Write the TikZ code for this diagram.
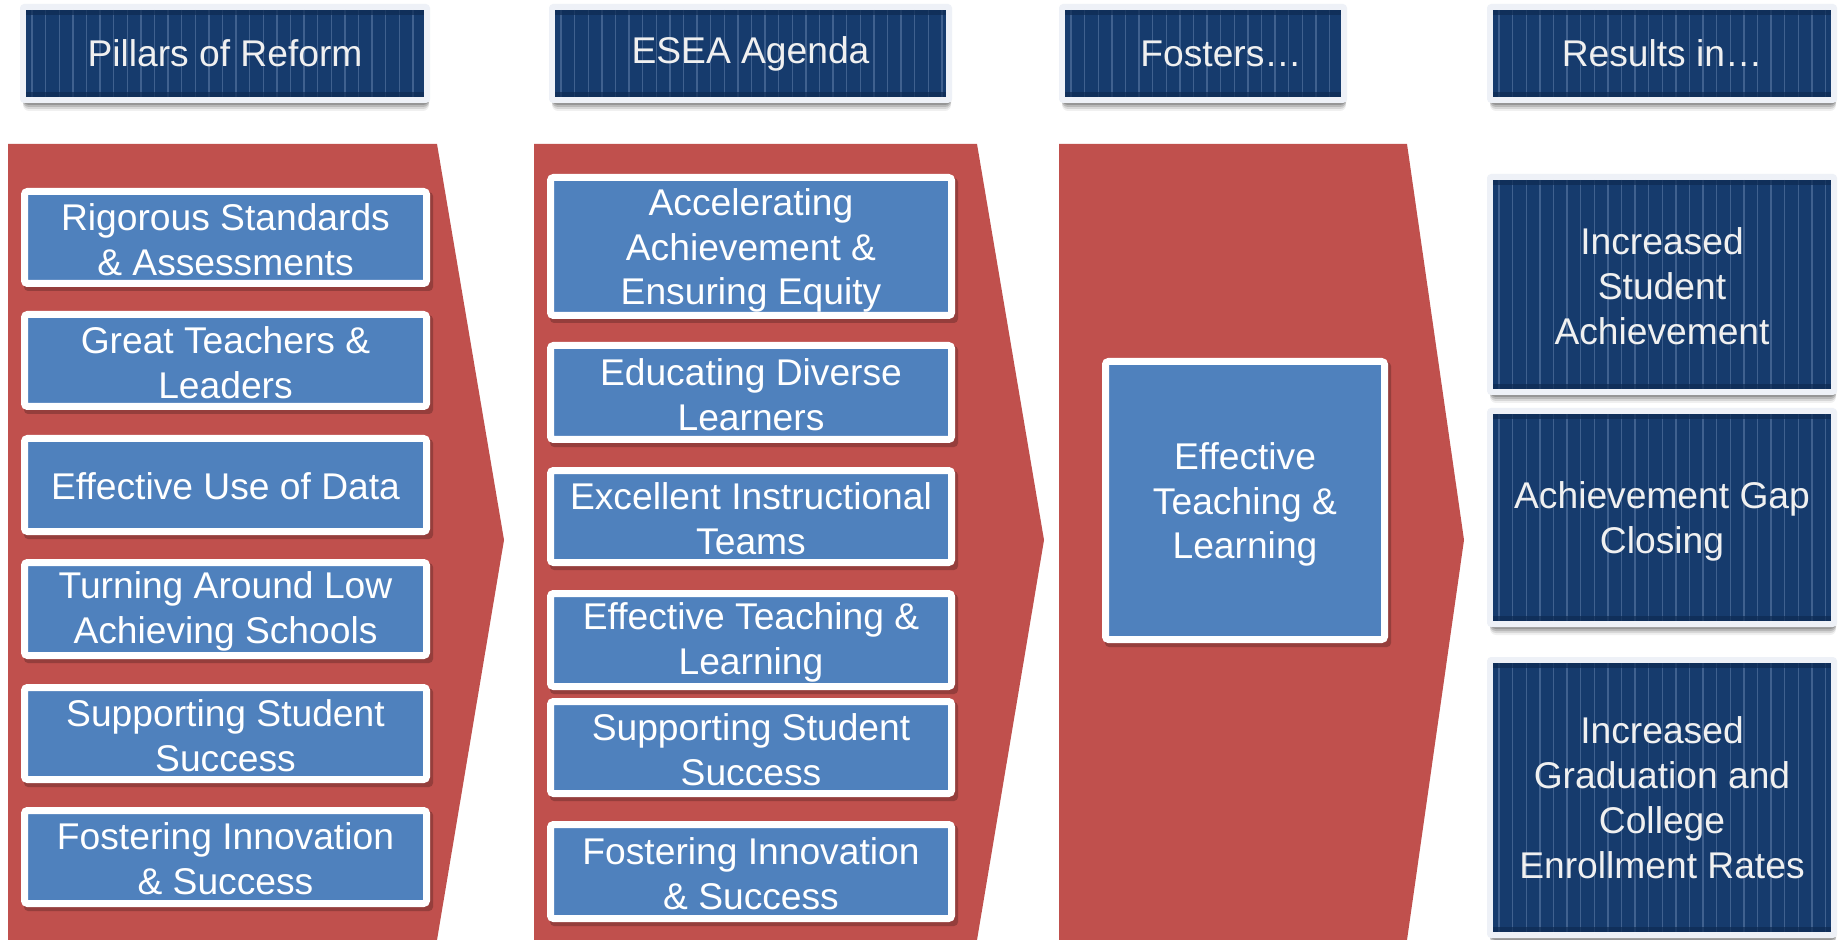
\documentclass[tikz,border=0pt]{standalone}
\usepackage{fontspec}
\setmainfont{Liberation Sans}
\definecolor{redc}{HTML}{C0504D}
\definecolor{bluec}{HTML}{4F81BD}
\definecolor{navy}{HTML}{163B6D}
\definecolor{navydark}{HTML}{0E2A52}
\definecolor{stripec}{HTML}{6482AC}
\definecolor{framec}{HTML}{EEF1F7}
\tikzset{
  chevron/.style={fill=redc},
  bluebox/.style={draw=white, fill=bluec, line width=3.5pt, rounded corners=1.5pt, inner sep=0pt,
    align=center, text=white, font=\fontsize{18.6}{22.4}\selectfont},
  navytext/.style={inner sep=0pt, align=center, text=white!94!black, font=\fontsize{18.6}{22.4}\selectfont},
  stripeline/.style={stripec, opacity=0.55, line width=0.7pt},
}
% #7 = vertical text shift
\newcommand\bbox[7]{%
  \pgfmathsetmacro\bw{(#4-#2-7)*0.5}%
  \pgfmathsetmacro\bh{(#5-#3-7)*0.5}%
  \fill[black,opacity=0.22,rounded corners=2pt] ({#2+3},{#3+4}) rectangle ({#4+3},{#5+4});%
  \node[bluebox,minimum width=\bw pt,minimum height=\bh pt] (#1) at ({(#2+#4)/2},{(#3+#5)/2}) {};%
  \node[bluebox,draw=none,fill=none,yshift=#7] (#1t) at (#1.center) {#6};%
}
% #7 = horizontal text shift (px), #8 = vertical text shift (pt)
\newcommand\nbox[8]{%
  \foreach \k/\op in {8/0.06,6/0.1,4/0.14,2/0.18} {\fill[black,opacity=\op,rounded corners=3pt] ({#2+3},{#3+\k}) rectangle ({#4-1},{#5+\k});}%
  \fill[framec,rounded corners=2pt] (#2,#3) rectangle (#4,#5);%
  \fill[navy] ({#2+6},{#3+6}) rectangle ({#4-6},{#5-6});%
  \pgfmathsetmacro\nn{int(floor((#4-#2-20)/13.6))}%
  \foreach \i in {0,...,\nn} {\draw[stripeline] ({#2+12+\i*13.6},{#3+6}) -- ++(0,{#5-#3-12});}%
  \fill[navydark,opacity=0.7] ({#2+6},{#3+6}) rectangle ({#4-6},{#3+11});%
  \fill[navydark,opacity=0.7] ({#2+6},{#5-11}) rectangle ({#4-6},{#5-6});%
  \node[navytext,yshift=#8] (#1) at ({(#2+#4)/2+#7},{(#3+#5)/2}) {#6};%
}
\begin{document}
\begin{tikzpicture}[x=0.5pt,y=-0.5pt]
\fill[white] (0,0) rectangle (1839,940);
\useasboundingbox (0,0) rectangle (1839,940);
% chevrons
\fill[chevron] (8,144) -- (437,144) -- (504,540) -- (437,940) -- (8,940) -- cycle;
\fill[chevron] (534,144) -- (977,144) -- (1044,540) -- (977,940) -- (534,940) -- cycle;
\fill[chevron] (1059,144) -- (1407,144) -- (1464,540) -- (1407,940) -- (1059,940) -- cycle;
% headers
\nbox{h1}{20}{4}{430}{103}{Pillars of Reform}{0}{0pt}
\nbox{h2}{549}{4}{952}{103}{ESEA Agenda}{0}{0pt}
\nbox{h3}{1059}{4}{1347}{103}{Fosters…}{18}{0pt}
\nbox{h4}{1487}{4}{1837}{103}{Results in…}{0}{0pt}
% left column
\bbox{l1}{21}{188}{430}{287}{Rigorous Standards\\\& Assessments}{-1pt}
\bbox{l2}{21}{311}{430}{410}{Great Teachers \&\\Leaders}{-1pt}
\bbox{l3}{21}{435}{430}{535}{Effective Use of Data}{-0.5pt}
\bbox{l4}{21}{559}{430}{659}{Turning Around Low\\Achieving Schools}{-1pt}
\bbox{l5}{21}{684}{430}{783}{Supporting Student\\Success}{-1pt}
\bbox{l6}{21}{807}{430}{907}{Fostering Innovation\\\& Success}{-1pt}
% middle column
\bbox{m1}{547}{174}{955}{319}{Accelerating\\Achievement \&\\Ensuring Equity}{-2pt}
\bbox{m2}{547}{342}{955}{443}{Educating Diverse\\Learners}{-1pt}
\bbox{m3}{547}{467}{955}{566}{Excellent Instructional\\Teams}{-1pt}
\bbox{m4}{547}{590}{955}{690}{Effective Teaching \&\\Learning}{-1pt}
\bbox{m5}{547}{698}{955}{797}{Supporting Student\\Success}{-1pt}
\bbox{m6}{547}{821}{955}{922}{Fostering Innovation\\\& Success}{-1pt}
% fosters
\bbox{f1}{1102}{358}{1388}{643}{Effective\\Teaching \&\\Learning}{-2pt}
% results
\nbox{r1}{1487}{174}{1837}{395}{Increased\\Student\\Achievement}{0}{-1pt}
\nbox{r2}{1487}{408}{1837}{627}{Achievement Gap\\Closing}{0}{-2pt}
\nbox{r3}{1487}{657}{1837}{938}{Increased\\Graduation and\\College\\Enrollment Rates}{0}{0pt}
\end{tikzpicture}
\end{document}
